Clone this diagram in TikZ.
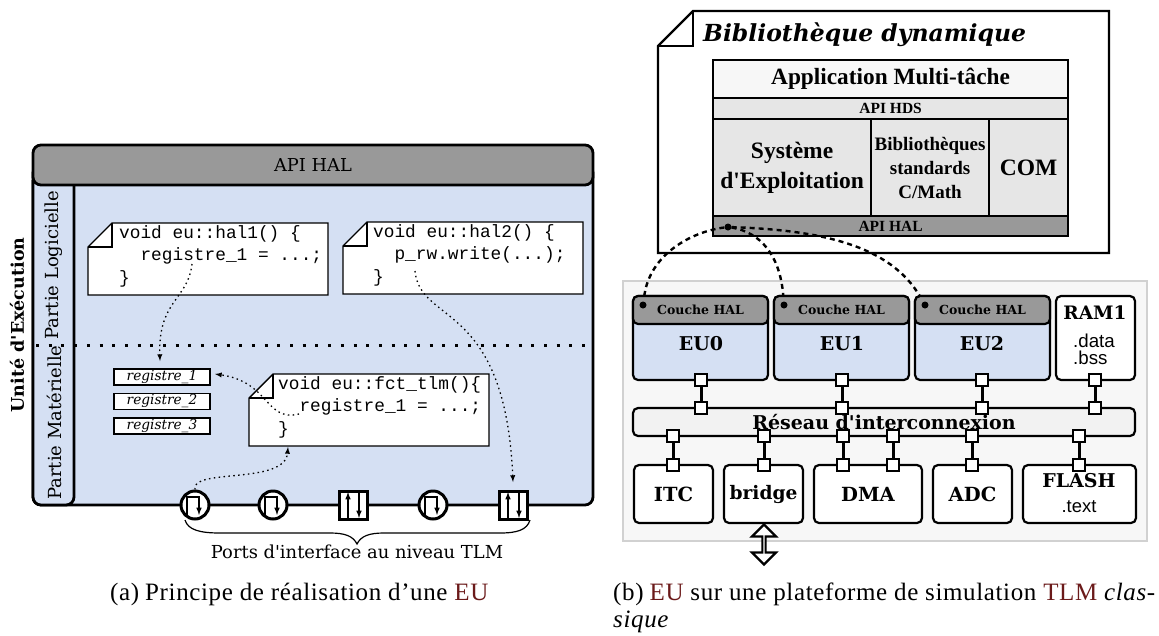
\documentclass[tikz,border=0pt]{standalone}
\usepackage{fontspec}
\setmainfont{Liberation Serif}
\newfontfamily\timesfont{Liberation Serif}
\newfontfamily\dejaserif{DejaVu Serif}
\newfontfamily\codefont{Liberation Mono}
\newfontfamily\sansfont{Liberation Sans}
\newcommand{\fsz}[1]{\fontsize{#1}{#1}\selectfont}
\usetikzlibrary{arrows,positioning,calc,shapes.arrows}
\definecolor{eublue}{HTML}{D5E0F3}
\definecolor{halgray}{HTML}{999999}
\definecolor{softgray}{HTML}{E6E6E6}
\definecolor{glossred}{HTML}{6B1A1A}

\begin{document}
\begin{tikzpicture}[x=1pt, y=-1pt,
  box/.style={draw, line width=2.2pt, inner sep=0pt, outer sep=0pt, align=center},
  rbox/.style={box, rounded corners=5pt},
  eubox/.style={rbox, fill=eublue, minimum width=135pt, minimum height=84pt},
  halbox/.style={rbox, fill=halgray, minimum width=135pt, minimum height=28pt, font=\dejaserif\bfseries\fsz{12.5}},
  unitbox/.style={rbox, fill=white, minimum height=58pt, font=\dejaserif\bfseries\fsz{19.5}},
  portsq/.style={draw, line width=1.8pt, fill=white, minimum size=12pt, inner sep=0pt},
  stack/.style={draw, line width=2.2pt, inner sep=0pt, align=center, anchor=north west},
  regbox/.style={draw, line width=1.4pt, fill=white, minimum width=96pt, minimum height=16pt, inner sep=0pt, font=\dejaserif\itshape\fsz{13.7}},
  code/.style={align=left, inner sep=0pt, anchor=north west, font=\codefont\fsz{17.8}},
  notebox/.style={draw, line width=1.4pt, fill=white},
  link/.style={line width=3pt},
  dotarrow/.style={-latex, line width=1.3pt, dash pattern=on 1.5pt off 3.4pt},
  halcurve/.style={line width=2.4pt, dash pattern=on 5pt off 4pt, shorten >=6pt},
  halpoint/.style={circle, fill=black, inner sep=0pt, minimum size=7pt},
  cport/.style={circle, draw, line width=3pt, fill=white, minimum size=28pt, inner sep=0pt},
  sport/.style={draw, line width=3pt, fill=white, minimum size=28pt, inner sep=0pt},
  caption/.style={anchor=base west, inner sep=0pt, font=\timesfont\fsz{25}\addfontfeature{LetterSpace=2.5}}]

\useasboundingbox (0,0) rectangle (1159,635);

% left part
\draw[line width=2.8pt, fill=eublue, rounded corners=8pt] (33,165) -- (33,505) -- (593,505) -- (593,165) -- cycle;
\draw[line width=2.8pt, fill=eublue, rounded corners=8pt] (33,180) -- (33,505) -- (74,505) -- (74,180);
\node[draw, line width=2.8pt, fill=halgray, rounded corners=8pt, minimum width=560pt, minimum height=40pt, font=\dejaserif\fsz{17.8}] (apihal) at (313,165) {API HAL};
\node[rotate=90, font=\dejaserif\bfseries\fsz{17.5}] (unit) at (17,325) {Unité d'Exécution};
\node[rotate=90, anchor=west, inner sep=0pt, font=\dejaserif\fsz{18}] (soft) at (54,340) {Partie Logicielle};
\node[rotate=90, anchor=west, inner sep=0pt, font=\dejaserif\fsz{18}] (hard) at (54,500) {Partie Matérielle};
\draw[line width=3pt, dash pattern=on 3pt off 9.7pt] (36,345) -- (590,345);

\draw[notebox] (88,247) -- (112,223) -- (328,223) -- (328,295) -- (88,295) -- cycle;
\draw[line width=1.8pt] (88,247) -- (112,247) -- (112,223);
\node[code] (hal1) at (119,225) {void eu::hal1() \{\\[5pt]~~registre\_1 = ...;\\[5pt]\}};
\draw[notebox] (343,246) -- (367,222) -- (583,222) -- (583,294) -- (343,294) -- cycle;
\draw[line width=1.8pt] (343,246) -- (367,246) -- (367,222);
\node[code] (hal2) at (373,224) {void eu::hal2() \{\\[5pt]~~p\_rw.write(...);\\[5pt]\}};
\draw[notebox] (249,398) -- (273,374) -- (489,374) -- (489,446) -- (249,446) -- cycle;
\draw[line width=1.8pt] (249,398) -- (273,398) -- (273,374);
\node[code] (tlm) at (278,376) {void eu::fct\_tlm()\{\\[5pt]~~registre\_1 = ...;\\[5pt]\}};

\node[regbox] (reg1) at (162,377) {registre\_1};
\node[regbox, below=7pt of reg1] (reg2) {registre\_2};
\node[regbox, below=7pt of reg2] (reg3) {registre\_3};

\node[cport] (p1) at (195,505) {};
\node[cport] (p2) at (273,505) {};
\node[sport] (p3) at (353,505) {};
\node[cport] (p4) at (433,505) {};
\node[sport] (p5) at (513,505) {};
\foreach \p in {p1,p2,p4} {
  \draw[-latex, line width=1.5pt] ($(\p)+(-8,12)$) -- ($(\p)+(-8,-8)$) -- ($(\p)+(4,-8)$) -- ($(\p)+(4,10)$);
}
\foreach \p in {p3,p5} {
  \draw[-latex, line width=1.5pt] ($(\p)+(-5,14)$) -- ($(\p)+(-5,-13)$);
  \draw[-latex, line width=1.5pt] ($(\p)+(6,-14)$) -- ($(\p)+(6,13)$);
}

\coordinate (hal1from) at (192,264);
\coordinate (hal2from) at (415,271);
\coordinate (regfrom) at (299,414);
\draw[dotarrow] (hal1from) .. controls (188,300) and (158,300) .. (160,361);
\draw[dotarrow] (hal2from) .. controls (420,325) and (505,300) .. (513,482);
\draw[dotarrow] (regfrom) .. controls (265,422) and (270,382) .. (215,374);
\draw[dotarrow] (p1.north) .. controls (190,468) and (285,485) .. (288,447);

\draw[line width=1.2pt] (185,520) .. controls (188,530) and (200,533) .. (220,533) -- (330,533) .. controls (345,533) and (353,536) .. (357,544) .. controls (361,536) and (369,533) .. (384,533) -- (500,533) .. controls (517,533) and (527,530) .. (530,520);
\node[font=\dejaserif\fsz{17.9}] (portlabel) at (357,552) {Ports d'interface au niveau TLM};

\node[caption] (capa) at (110,600) {(a)\hspace{6pt}Principe de réalisation d’une \textcolor{glossred}{EU}};
\node[caption] (capb) at (613,600) {(b)\hspace{6pt}\textcolor{glossred}{EU} sur une plateforme de simulation \textcolor{glossred}{TLM} \textit{clas-}};
\node[caption] (capc) at (613,627) {\textit{sique}};

% right part, top
\draw[line width=2.4pt, fill=white] (658,46) -- (693,11) -- (1109,11) -- (1109,253) -- (658,253) -- cycle;
\draw[line width=2.4pt] (658,46) -- (693,46) -- (693,11);
\node[anchor=base west, inner sep=0pt, font=\dejaserif\bfseries\itshape\fsz{23.5}] (libname) at (703,41.5) {Bibliothèque dynamique};

\node[stack, fill=black!3, minimum width=355pt, minimum height=38pt, font=\timesfont\bfseries\fsz{23.3}] (appli) at (712,59) {Application Multi-tâche};
\node[stack, fill=softgray, minimum width=355pt, minimum height=21pt, font=\timesfont\bfseries\fsz{15.5}] (hds) at (712,97) {API HDS};
\node[stack, fill=softgray, minimum width=158pt, minimum height=97pt, font=\timesfont\bfseries\fsz{23.5}] (os) at (712,118) {Système\\[6pt]d'Exploitation};
\node[stack, fill=softgray, minimum width=118pt, minimum height=97pt, font=\timesfont\bfseries\fsz{19}] (libc) at (870,118) {Bibliothèques\\[5pt]standards\\[5pt]C/Math};
\node[stack, fill=softgray, minimum width=79pt, minimum height=97pt, font=\timesfont\bfseries\fsz{23.5}] (com) at (988,118) {COM};
\node[stack, fill=halgray, minimum width=355pt, minimum height=20pt, font=\timesfont\bfseries\fsz{15.5}] (hal) at (712,215) {API HAL};

% right part, platform
\node[draw=black!18, line width=2pt, fill=black!3, minimum width=524pt, minimum height=260pt, anchor=north west, inner sep=0pt] (platform) at (622,280) {};

\node[eubox, anchor=north west] (eu0) at (633,296) {};
\node[eubox, anchor=north west] (eu1) at (774,296) {};
\node[eubox, anchor=north west] (eu2) at (915,296) {};
\node[halbox, anchor=north west] (hal0) at (633,296) {Couche HAL};
\node[halbox, anchor=north west] (hal1b) at (774,296) {Couche HAL};
\node[halbox, anchor=north west] (hal2b) at (915,296) {Couche HAL};
\node[font=\dejaserif\bfseries\fsz{19}] (eu0name) at (701,344) {EU0};
\node[font=\dejaserif\bfseries\fsz{19}] (eu1name) at (842,344) {EU1};
\node[font=\dejaserif\bfseries\fsz{19}] (eu2name) at (982,344) {EU2};
\node[rbox, fill=white, minimum width=79pt, minimum height=84pt, anchor=north west] (ram) at (1056,296) {};
\node[font=\dejaserif\bfseries\fsz{18.5}] (ramname) at (1095,313) {RAM1};
\node[align=left, font=\sansfont\fsz{18.7}] (ramsec) at (1094,349) {.data\\[-2pt].bss};

\node[rbox, fill=softgray!50, minimum width=502pt, minimum height=28pt, anchor=north west, font=\dejaserif\bfseries\fsz{19}] (noc) at (633,408) {Réseau d'interconnexion};

\node[unitbox, minimum width=79pt, anchor=north west] (itc) at (634,465) {ITC};
\node[unitbox, minimum width=79pt, anchor=north west, font=\dejaserif\bfseries\fsz{18.6}] (bridge) at (724,465) {bridge};
\node[unitbox, minimum width=108pt, anchor=north west] (dma) at (814,465) {DMA};
\node[unitbox, minimum width=79pt, anchor=north west] (adc) at (933,465) {ADC};
\node[unitbox, minimum width=113pt, anchor=north west] (flash) at (1023,465) {};
\node[font=\dejaserif\bfseries\fsz{19}] (flashname) at (1079,481) {FLASH};
\node[font=\sansfont\fsz{18.4}] (flashsec) at (1079,507) {.text};

\node[portsq] (a0) at (701,380) {};
\node[portsq] (b0) at (701,408) {};
\node[portsq] (a1) at (842,380) {};
\node[portsq] (b1) at (842,408) {};
\node[portsq] (a2) at (982,380) {};
\node[portsq] (b2) at (982,408) {};
\node[portsq] (a3) at (1095,380) {};
\node[portsq] (b3) at (1095,408) {};
\draw[link] (a0) -- (b0);
\draw[link] (a1) -- (b1);
\draw[link] (a2) -- (b2);
\draw[link] (a3) -- (b3);

\node[portsq] (c0) at (673,436) {};
\node[portsq] (d0) at (673,465) {};
\node[portsq] (c1) at (764,436) {};
\node[portsq] (d1) at (764,465) {};
\node[portsq] (c2) at (843,436) {};
\node[portsq] (d2) at (843,465) {};
\node[portsq] (c3) at (893,436) {};
\node[portsq] (d3) at (893,465) {};
\node[portsq] (c4) at (972,436) {};
\node[portsq] (d4) at (972,465) {};
\node[portsq] (c5) at (1079,436) {};
\node[portsq] (d5) at (1079,465) {};
\draw[link] (c0) -- (d0);
\draw[link] (c1) -- (d1);
\draw[link] (c2) -- (d2);
\draw[link] (c3) -- (d3);
\draw[link] (c4) -- (d4);
\draw[link] (c5) -- (d5);

\node[draw, line width=2.2pt, fill=white, double arrow, double arrow head extend=7pt, minimum height=40pt, minimum width=24pt, inner sep=0pt, shape border rotate=90] (extbus) at (764,544.5) {};

\node[halpoint] (halspot) at (728,227) {};
\node[halpoint] (spot0) at (643,305) {};
\node[halpoint] (spot1) at (784,305) {};
\node[halpoint] (spot2) at (925,305) {};
\draw[halcurve] (halspot) .. controls (690,232) and (650,255) .. (spot0);
\draw[halcurve] (halspot) .. controls (760,232) and (780,255) .. (spot1);
\draw[halcurve] (halspot) .. controls (820,230) and (890,245) .. (spot2);

\end{tikzpicture}
\end{document}
